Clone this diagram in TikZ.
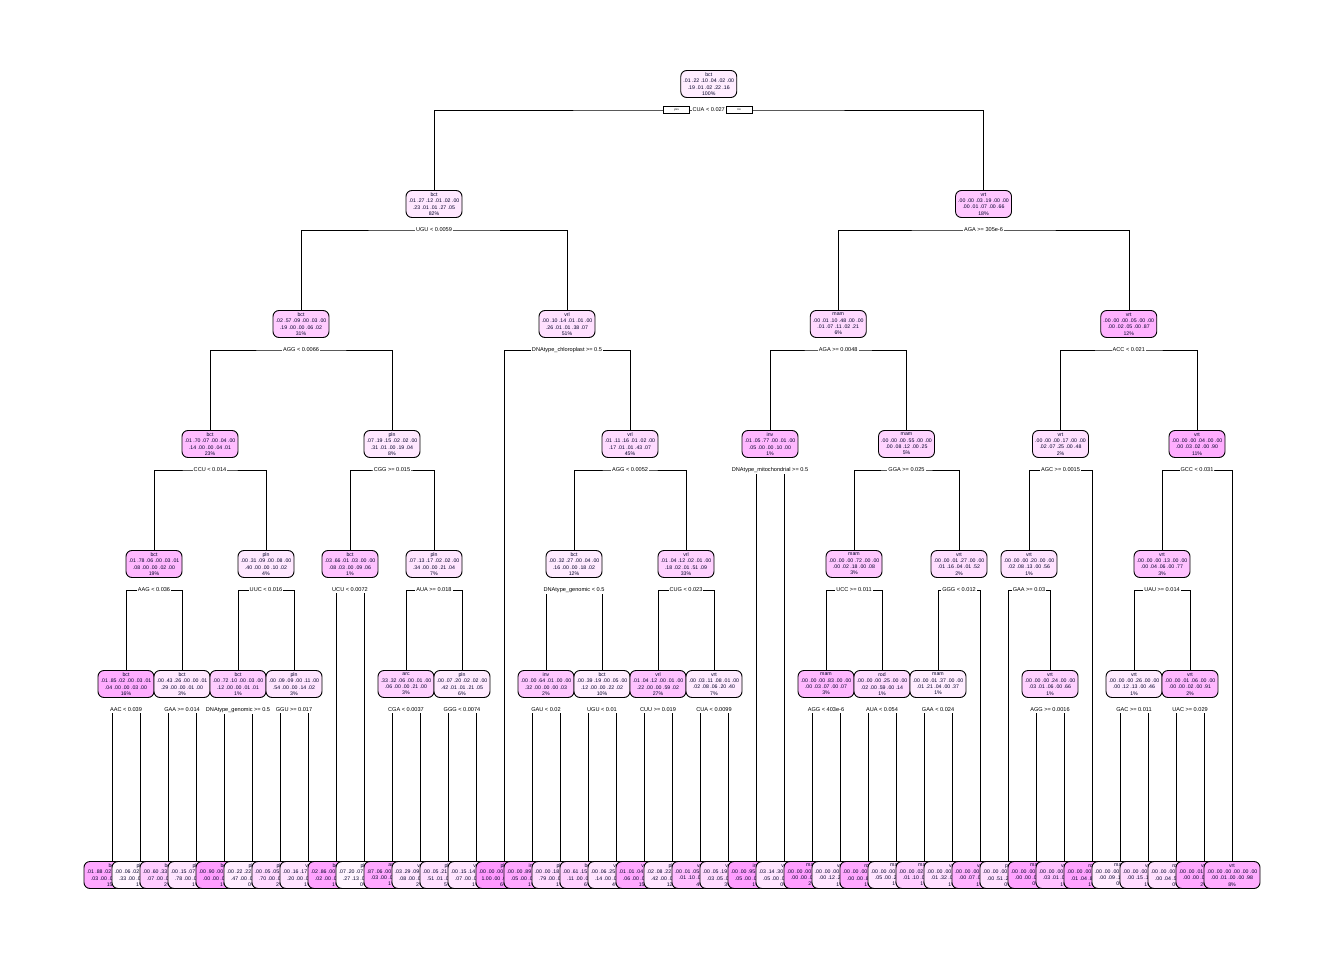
\documentclass[tikz,border=0pt]{standalone}
\usepackage{fontspec}
\setmainfont{Liberation Sans}
\pgfdeclarelayer{background}
\pgfsetlayers{background,main}
\definecolor{nodemag}{rgb}{1,0,1}
% class, first six, last five, percent
\newcommand{\ntxt}[4]{#1\\#2\\#3\\#4\%}
\tikzset{
  nbox/.style={draw, line width=0.9pt, rounded corners=6pt, fill=nodemag!#1!white,
    minimum width=56pt, minimum height=27pt, inner sep=0.5pt, align=center,
    text=black!75!blue!60!black, font=\fontsize{5.2}{6.4}\selectfont},
  split/.style={fill=white, inner sep=1pt, text=black, font=\fontsize{5.6}{6}\selectfont},
  yn/.style={draw, fill=white, line width=0.8pt, minimum width=26pt, minimum height=6.5pt,
    inner sep=0pt, font=\fontsize{3}{3}\selectfont}
}
\begin{document}
\begin{tikzpicture}[x=1pt, y=-1pt, line width=0.9pt]
\useasboundingbox (0,0) rectangle (1344,960);

% inner nodes
\node[nbox=7]  (n1) at (708.75,84) {\ntxt{bct}{.01 .22 .10 .04 .02 .00}{.19 .01 .02 .22 .16}{100}};
\node[nbox=9]  (n2) at (434,204) {\ntxt{bct}{.01 .27 .12 .01 .02 .00}{.23 .01 .01 .27 .05}{82}};
\node[nbox=22] (n3) at (983.5,204) {\ntxt{vrt}{.00 .00 .03 .19 .00 .00}{.00 .01 .07 .00 .66}{18}};
\node[nbox=20] (n4) at (301,324) {\ntxt{bct}{.02 .57 .09 .00 .03 .00}{.19 .00 .00 .06 .02}{31}};
\node[nbox=12] (n5) at (567,324) {\ntxt{vrl}{.00 .10 .14 .01 .01 .00}{.26 .01 .01 .38 .07}{51}};
\node[nbox=15] (n6) at (838.25,324) {\ntxt{mam}{.00 .01 .10 .48 .00 .00}{.01 .07 .11 .02 .21}{6}};
\node[nbox=30] (n7) at (1128.75,324) {\ntxt{vrt}{.00 .00 .00 .05 .00 .00}{.00 .02 .05 .00 .87}{12}};
\node[nbox=26] (n8) at (210,444) {\ntxt{bct}{.01 .70 .07 .00 .04 .00}{.14 .00 .00 .04 .01}{23}};
\node[nbox=9]  (n9) at (392,444) {\ntxt{pln}{.07 .19 .15 .02 .02 .00}{.31 .01 .00 .19 .04}{8}};
\node[nbox=14] (n10) at (630,444) {\ntxt{vrl}{.01 .11 .16 .01 .02 .00}{.17 .01 .01 .43 .07}{45}};
\node[nbox=28] (n11) at (770,444) {\ntxt{inv}{.01 .05 .77 .00 .01 .00}{.05 .00 .00 .10 .00}{1}};
\node[nbox=17] (n12) at (906.5,444) {\ntxt{mam}{.00 .00 .00 .55 .00 .00}{.00 .08 .12 .00 .25}{5}};
\node[nbox=12] (n13) at (1060.5,444) {\ntxt{vrt}{.00 .00 .00 .17 .00 .00}{.02 .07 .25 .00 .48}{2}};
\node[nbox=32] (n14) at (1197,444) {\ntxt{vrt}{.00 .00 .00 .04 .00 .00}{.00 .03 .02 .00 .90}{11}};
\node[nbox=28] (n15) at (154,564) {\ntxt{bct}{.01 .78 .06 .00 .03 .01}{.08 .00 .00 .02 .00}{19}};
\node[nbox=9]  (n16) at (266,564) {\ntxt{pln}{.00 .31 .09 .00 .08 .00}{.40 .00 .00 .10 .02}{4}};
\node[nbox=24] (n17) at (350,564) {\ntxt{bct}{.03 .66 .01 .03 .00 .00}{.08 .03 .00 .09 .06}{1}};
\node[nbox=10] (n18) at (434,564) {\ntxt{pln}{.07 .13 .17 .02 .02 .00}{.34 .00 .00 .21 .04}{7}};
\node[nbox=8]  (n19) at (574,564) {\ntxt{bct}{.00 .32 .27 .00 .04 .00}{.16 .00 .00 .18 .02}{12}};
\node[nbox=18] (n20) at (686,564) {\ntxt{vrl}{.01 .04 .12 .02 .01 .00}{.18 .02 .01 .51 .09}{33}};
\node[nbox=22] (n21) at (854,564) {\ntxt{mam}{.00 .00 .00 .72 .00 .00}{.00 .02 .18 .00 .08}{3}};
\node[nbox=13] (n22) at (959,564) {\ntxt{vrt}{.00 .00 .01 .27 .00 .00}{.01 .16 .04 .01 .52}{2}};
\node[nbox=11] (n23) at (1029,564) {\ntxt{vrt}{.00 .00 .00 .20 .00 .00}{.02 .08 .13 .00 .56}{1}};
\node[nbox=24] (n24) at (1162,564) {\ntxt{vrt}{.00 .00 .00 .13 .00 .00}{.00 .04 .06 .00 .77}{3}};
\node[nbox=32] (n25) at (126,684) {\ntxt{bct}{.01 .85 .02 .00 .03 .01}{.04 .00 .00 .03 .00}{16}};
\node[nbox=9]  (n26) at (182,684) {\ntxt{bct}{.00 .43 .26 .00 .00 .01}{.29 .00 .00 .01 .00}{3}};
\node[nbox=20] (n27) at (238,684) {\ntxt{bct}{.00 .72 .10 .00 .03 .00}{.12 .00 .00 .01 .01}{1}};
\node[nbox=10] (n28) at (294,684) {\ntxt{pln}{.00 .09 .09 .00 .11 .00}{.54 .00 .00 .14 .02}{3}};
\node[nbox=18] (n29) at (406,684) {\ntxt{arc}{.33 .32 .06 .00 .01 .00}{.06 .00 .00 .21 .00}{3}};
\node[nbox=8]  (n30) at (462,684) {\ntxt{pln}{.00 .07 .20 .02 .02 .00}{.42 .01 .01 .21 .05}{6}};
\node[nbox=22] (n31) at (546,684) {\ntxt{inv}{.00 .00 .64 .01 .00 .00}{.32 .00 .00 .00 .03}{2}};
\node[nbox=7]  (n32) at (602,684) {\ntxt{bct}{.00 .39 .19 .00 .05 .00}{.12 .00 .00 .22 .02}{10}};
\node[nbox=24] (n33) at (658,684) {\ntxt{vrl}{.01 .04 .12 .00 .01 .00}{.22 .00 .00 .59 .02}{27}};
\node[nbox=8]  (n34) at (714,684) {\ntxt{vrt}{.00 .03 .11 .08 .01 .00}{.02 .08 .06 .20 .40}{7}};
\node[nbox=28] (n35) at (826,684) {\ntxt{mam}{.00 .00 .00 .83 .00 .00}{.00 .03 .07 .00 .07}{3}};
\node[nbox=14] (n36) at (882,684) {\ntxt{rod}{.00 .00 .00 .25 .00 .00}{.02 .00 .59 .00 .14}{1}};
\node[nbox=7]  (n37) at (938,684) {\ntxt{mam}{.00 .00 .01 .37 .00 .00}{.01 .21 .04 .00 .37}{1}};
\node[nbox=18] (n38) at (1050,684) {\ntxt{vrt}{.00 .00 .00 .24 .00 .00}{.03 .01 .06 .00 .66}{1}};
\node[nbox=8]  (n39) at (1134,684) {\ntxt{vrt}{.00 .00 .00 .26 .00 .00}{.00 .12 .13 .00 .46}{1}};
\node[nbox=28] (n40) at (1190,684) {\ntxt{vrt}{.00 .00 .01 .06 .00 .00}{.00 .00 .02 .00 .91}{2}};

% leaves, left to right, each one over the last
\node[nbox=34] (l0) at (112,875) {\ntxt{bct}{.01 .88 .02 .00 .03 .00}{.03 .00 .00 .03 .00}{15}};
\node[nbox=4]  (l1) at (140,875) {\ntxt{pln}{.00 .06 .02 .00 .03 .03}{.33 .00 .00 .06 .00}{1}};
\node[nbox=20] (l2) at (168,875) {\ntxt{bct}{.00 .60 .33 .00 .00 .00}{.07 .00 .00 .00 .00}{2}};
\node[nbox=10] (l3) at (196,875) {\ntxt{pln}{.00 .15 .07 .00 .00 .00}{.78 .00 .00 .00 .00}{1}};
\node[nbox=38] (l4) at (224,875) {\ntxt{bct}{.00 .90 .00 .00 .00 .00}{.00 .00 .00 .10 .00}{1}};
\node[nbox=7]  (l5) at (252,875) {\ntxt{pln}{.00 .22 .22 .00 .07 .00}{.47 .00 .00 .02 .00}{0}};
\node[nbox=15] (l6) at (280,875) {\ntxt{pln}{.00 .05 .05 .00 .10 .00}{.70 .00 .00 .08 .02}{2}};
\node[nbox=11] (l7) at (308,875) {\ntxt{vrl}{.00 .16 .17 .00 .13 .00}{.20 .00 .00 .30 .04}{1}};
\node[nbox=36] (l8) at (336,875) {\ntxt{bct}{.02 .86 .00 .02 .00 .00}{.02 .00 .00 .04 .04}{1}};
\node[nbox=4]  (l9) at (364,875) {\ntxt{pln}{.07 .20 .07 .07 .00 .00}{.27 .13 .00 .20 .13}{0}};
\node[nbox=34] (l10) at (392,875) {\ntxt{arc}{.87 .06 .00 .00 .00 .00}{.03 .00 .00 .04 .00}{1}};
\node[nbox=10] (l11) at (420,875) {\ntxt{vrl}{.03 .29 .09 .00 .02 .00}{.08 .00 .00 .49 .00}{2}};
\node[nbox=12] (l12) at (448,875) {\ntxt{pln}{.00 .05 .21 .02 .01 .00}{.51 .01 .01 .14 .04}{5}};
\node[nbox=10] (l13) at (476,875) {\ntxt{vrl}{.00 .15 .14 .00 .03 .00}{.07 .00 .00 .53 .08}{1}};
\node[nbox=40] (l14) at (504,875) {\ntxt{pln}{.00 .00 .00 .00 .00 .00}{1.00 .00 .00 .00 .00}{6}};
\node[nbox=34] (l15) at (532,875) {\ntxt{inv}{.00 .00 .89 .02 .00 .00}{.05 .00 .00 .00 .04}{1}};
\node[nbox=14] (l16) at (560,875) {\ntxt{pln}{.00 .00 .18 .00 .00 .00}{.79 .00 .00 .00 .03}{1}};
\node[nbox=18] (l17) at (588,875) {\ntxt{bct}{.00 .61 .15 .00 .07 .00}{.11 .00 .00 .05 .01}{6}};
\node[nbox=10] (l18) at (616,875) {\ntxt{vrl}{.00 .06 .25 .00 .02 .00}{.14 .00 .00 .49 .04}{4}};
\node[nbox=34] (l19) at (644,875) {\ntxt{vrl}{.01 .01 .04 .00 .00 .00}{.06 .00 .00 .87 .01}{15}};
\node[nbox=10] (l20) at (672,875) {\ntxt{pln}{.02 .08 .22 .00 .02 .00}{.42 .00 .00 .22 .02}{12}};
\node[nbox=26] (l21) at (700,875) {\ntxt{vrt}{.00 .01 .05 .08 .00 .00}{.01 .10 .05 .05 .65}{4}};
\node[nbox=14] (l22) at (728,875) {\ntxt{vrl}{.00 .05 .19 .08 .02 .00}{.03 .05 .07 .39 .12}{3}};
\node[nbox=38] (l23) at (756,875) {\ntxt{inv}{.00 .00 .95 .00 .00 .00}{.05 .00 .00 .00 .00}{1}};
\node[nbox=10] (l24) at (784,875) {\ntxt{vrl}{.03 .14 .30 .00 .03 .00}{.05 .00 .00 .45 .00}{0}};
\node[nbox=38] (l25) at (812,875) {\ntxt{mam}{.00 .00 .00 .96 .00 .00}{.00 .00 .02 .00 .02}{2}};
\node[nbox=10] (l26) at (840,875) {\ntxt{vrt}{.00 .00 .00 .33 .00 .00}{.00 .12 .20 .00 .35}{1}};
\node[nbox=34] (l27) at (868,875) {\ntxt{rod}{.00 .00 .00 .08 .00 .00}{.00 .00 .86 .00 .06}{1}};
\node[nbox=10] (l28) at (896,875) {\ntxt{mam}{.00 .00 .00 .48 .00 .00}{.05 .00 .22 .00 .25}{1}};
\node[nbox=20] (l29) at (924,875) {\ntxt{mam}{.00 .00 .02 .62 .00 .00}{.01 .10 .05 .00 .20}{1}};
\node[nbox=12] (l30) at (952,875) {\ntxt{vrt}{.00 .00 .00 .12 .00 .00}{.01 .32 .03 .00 .52}{1}};
\node[nbox=30] (l31) at (980,875) {\ntxt{vrt}{.00 .00 .00 .07 .00 .00}{.00 .07 .03 .02 .81}{1}};
\node[nbox=12] (l32) at (1008,875) {\ntxt{pri}{.00 .00 .00 .13 .00 .00}{.00 .51 .23 .00 .13}{0}};
\node[nbox=36] (l33) at (1036,875) {\ntxt{mam}{.00 .00 .00 .90 .00 .00}{.00 .00 .05 .00 .05}{0}};
\node[nbox=24] (l34) at (1064,875) {\ntxt{vrt}{.00 .00 .00 .07 .00 .00}{.03 .01 .06 .00 .83}{1}};
\node[nbox=36] (l35) at (1092,875) {\ntxt{rod}{.00 .00 .00 .08 .00 .00}{.01 .04 .81 .00 .06}{1}};
\node[nbox=8]  (l36) at (1120,875) {\ntxt{mam}{.00 .00 .00 .44 .00 .00}{.00 .09 .13 .00 .34}{0}};
\node[nbox=14] (l37) at (1148,875) {\ntxt{vrt}{.00 .00 .00 .08 .00 .00}{.00 .15 .13 .00 .64}{1}};
\node[nbox=12] (l38) at (1176,875) {\ntxt{rod}{.00 .00 .00 .12 .00 .00}{.00 .04 .52 .00 .32}{0}};
\node[nbox=34] (l39) at (1204,875) {\ntxt{vrt}{.00 .00 .01 .06 .00 .00}{.00 .00 .00 .00 .93}{2}};
\node[nbox=32] (l40) at (1232,875) {\ntxt{vrt}{.00 .00 .00 .00 .00 .00}{.00 .01 .00 .00 .98}{8}};

% split labels
\node[split] (s1) at (708.75,110) {CUA < 0.027};
\node[split] (s2) at (434,230) {UGU < 0.0059};
\node[split] (s3) at (983.5,230) {AGA >= 305e-6};
\node[split] (s4) at (301,350) {AGG < 0.0066};
\node[split] (s5) at (567,350) {DNAtype\_chloroplast >= 0.5};
\node[split] (s6) at (838.25,350) {AGA >= 0.0048};
\node[split] (s7) at (1128.75,350) {ACC < 0.021};
\node[split] (s8) at (210,470) {CCU < 0.014};
\node[split] (s9) at (392,470) {CGG >= 0.015};
\node[split] (s10) at (630,470) {AGG < 0.0052};
\node[split] (s11) at (770,470) {DNAtype\_mitochondrial >= 0.5};
\node[split] (s12) at (906.5,470) {GGA >= 0.025};
\node[split] (s13) at (1060.5,470) {AGC >= 0.0015};
\node[split] (s14) at (1197,470) {GCC < 0.031};
\node[split] (s15) at (154,590) {AAG < 0.036};
\node[split] (s16) at (266,590) {UUC < 0.016};
\node[split] (s17) at (350,590) {UCU < 0.0072};
\node[split] (s18) at (434,590) {AUA >= 0.018};
\node[split] (s19) at (574,590) {DNAtype\_genomic < 0.5};
\node[split] (s20) at (686,590) {CUG < 0.023};
\node[split] (s21) at (854,590) {UCC >= 0.011};
\node[split] (s22) at (959,590) {GGG < 0.012};
\node[split] (s23) at (1029,590) {GAA >= 0.03};
\node[split] (s24) at (1162,590) {UAU >= 0.014};
\node[split] (s25) at (126,710) {AAC < 0.039};
\node[split] (s26) at (182,710) {GAA >= 0.014};
\node[split] (s27) at (238,710) {DNAtype\_genomic >= 0.5};
\node[split] (s28) at (294,710) {GGU >= 0.017};
\node[split] (s29) at (406,710) {CGA < 0.0037};
\node[split] (s30) at (462,710) {GGG < 0.0074};
\node[split] (s31) at (546,710) {GAU < 0.02};
\node[split] (s32) at (602,710) {UGU < 0.01};
\node[split] (s33) at (658,710) {CUU >= 0.019};
\node[split] (s34) at (714,710) {CUA < 0.0099};
\node[split] (s35) at (826,710) {AGG < 403e-6};
\node[split] (s36) at (882,710) {AUA < 0.054};
\node[split] (s37) at (938,710) {GAA < 0.024};
\node[split] (s38) at (1050,710) {AGG >= 0.0016};
\node[split] (s39) at (1134,710) {GAC >= 0.011};
\node[split] (s40) at (1190,710) {UAC >= 0.029};

\node[yn] (yes) at (676.5,110) {yes};
\node[yn] (no) at (739,110) {no};

% branches
\begin{pgfonlayer}{background}
\draw (n2.north) |- (s1.center) -| (n3.north);
\draw (n4.north) |- (s2.center) -| (n5.north);
\draw (n6.north) |- (s3.center) -| (n7.north);
\draw (n8.north) |- (s4.center) -| (n9.north);
\draw (l14.north) |- (s5.center) -| (n10.north);
\draw (n11.north) |- (s6.center) -| (n12.north);
\draw (n13.north) |- (s7.center) -| (n14.north);
\draw (n15.north) |- (s8.center) -| (n16.north);
\draw (n17.north) |- (s9.center) -| (n18.north);
\draw (n19.north) |- (s10.center) -| (n20.north);
\draw (l23.north) |- (s11.center) -| (l24.north);
\draw (n21.north) |- (s12.center) -| (n22.north);
\draw (n23.north) |- (s13.center) -| (l35.north);
\draw (n24.north) |- (s14.center) -| (l40.north);
\draw (n25.north) |- (s15.center) -| (n26.north);
\draw (n27.north) |- (s16.center) -| (n28.north);
\draw (l8.north) |- (s17.center) -| (l9.north);
\draw (n29.north) |- (s18.center) -| (n30.north);
\draw (n31.north) |- (s19.center) -| (n32.north);
\draw (n33.north) |- (s20.center) -| (n34.north);
\draw (n35.north) |- (s21.center) -| (n36.north);
\draw (n37.north) |- (s22.center) -| (l31.north);
\draw (l32.north) |- (s23.center) -| (n38.north);
\draw (n39.north) |- (s24.center) -| (n40.north);
\draw (l0.north) |- (s25.center) -| (l1.north);
\draw (l2.north) |- (s26.center) -| (l3.north);
\draw (l4.north) |- (s27.center) -| (l5.north);
\draw (l6.north) |- (s28.center) -| (l7.north);
\draw (l10.north) |- (s29.center) -| (l11.north);
\draw (l12.north) |- (s30.center) -| (l13.north);
\draw (l15.north) |- (s31.center) -| (l16.north);
\draw (l17.north) |- (s32.center) -| (l18.north);
\draw (l19.north) |- (s33.center) -| (l20.north);
\draw (l21.north) |- (s34.center) -| (l22.north);
\draw (l25.north) |- (s35.center) -| (l26.north);
\draw (l27.north) |- (s36.center) -| (l28.north);
\draw (l29.north) |- (s37.center) -| (l30.north);
\draw (l33.north) |- (s38.center) -| (l34.north);
\draw (l36.north) |- (s39.center) -| (l37.north);
\draw (l38.north) |- (s40.center) -| (l39.north);
\end{pgfonlayer}
\end{tikzpicture}
\end{document}
